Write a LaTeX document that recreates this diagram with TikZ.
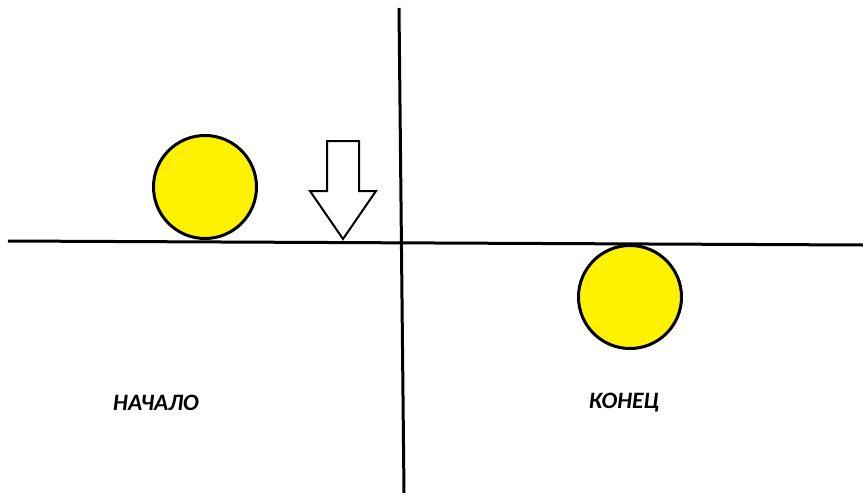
\documentclass[tikz,border=0pt]{standalone}
\usepackage{fontspec}
\setmainfont{Carlito}
\usetikzlibrary{positioning}
\definecolor{BallYellow}{RGB}{255,242,0}
\definecolor{Ink}{RGB}{0,0,0}
\tikzset{
  axis/.style={draw=Ink,line width=3pt},
  ball/.style={circle,draw=Ink,line width=3pt,fill=BallYellow,minimum size=103pt,inner sep=0pt},
  pointer/.style={draw=Ink,line width=2pt,fill=white,line join=miter},
  caption/.style={font=\fontsize{23.5}{28}\selectfont\bfseries\itshape,text=Ink}
}
\begin{document}
\begin{tikzpicture}[x=1pt,y=-1pt]
  \useasboundingbox (0,0) rectangle (863,493);
  % axes
  \coordinate (hl) at (8,241);
  \coordinate (hr) at (863,245);
  \coordinate (vt) at (399,8);
  \coordinate (vb) at (404,493);
  \draw[axis] (hl)--(hr);
  \draw[axis] (vt)--(vb);
  % balls
  \node[ball] (start ball) at (205,187) {};
  \node[ball] (end ball) at (630,297) {};
  % pointer
  \draw[pointer] (327,141)--(359,141)--(359,191)--(376,191)--(343,239)--(310,191)--(327,191)--cycle;
  % captions
  \node[caption] (start) at (156,403) {НАЧАЛО};
  \node[caption] (end) at (624,403) {КОНЕЦ};
\end{tikzpicture}
\end{document}
